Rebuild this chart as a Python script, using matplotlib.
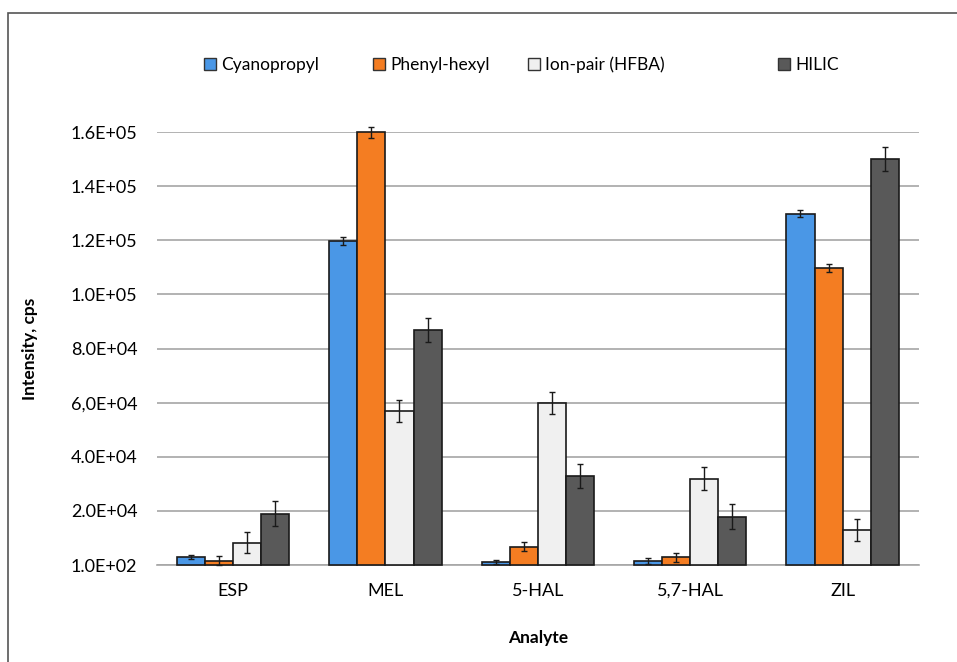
import numpy as np
import matplotlib
matplotlib.use("Agg")
import matplotlib.pyplot as plt
from matplotlib.patches import Patch, Rectangle

plt.rcParams['font.family'] = ['Lato', 'DejaVu Sans']

analytes = ["ESP", "MEL", "5-HAL", "5,7-HAL", "ZIL"]
series = ["Cyanopropyl", "Phenyl-hexyl", "Ion-pair (HFBA)", "HILIC"]

cyanopropyl = [3000, 120000, 1200, 1600, 130000]
phenyl_hexyl = [1700, 160000, 6800, 3000, 110000]
ion_pair = [8400, 57000, 60000, 32000, 13000]
hilic = [19000, 87000, 33000, 18000, 150000]

cyanopropyl_err = [700, 1500, 700, 1000, 1300]
phenyl_hexyl_err = [1600, 2000, 1700, 1700, 1500]
ion_pair_err = [4000, 4200, 4100, 4200, 4200]
hilic_err = [4600, 4500, 4500, 4500, 4400]

ytick_vals = [100, 20100, 40100, 60100, 80100, 100100, 120100, 140100, 160100]
ytick_labels = ["1.0E+02", "2.0E+04", "4.0E+04", "6,0E+04", "8.0E+04",
                "1.0E+05", "1.2E+05", "1.4E+05", "1.6E+05"]

colors = ["#4a97e6", "#f47d22", "#f0f0f0", "#595959"]

values = [cyanopropyl, phenyl_hexyl, ion_pair, hilic]
errors = [cyanopropyl_err, phenyl_hexyl_err, ion_pair_err, hilic_err]

fig = plt.figure(figsize=(9.57, 6.62), dpi=100)
ax = fig.add_axes([0.164, 0.1465, 0.796, 0.654])

x = np.arange(len(analytes))
width = 0.184
for i in range(4):
    pos = x + (i - 1.5) * width
    ax.bar(pos, values[i], width, color=colors[i], edgecolor="#1a1a1a",
           linewidth=1.2, zorder=3, clip_on=False)
    eb = ax.errorbar(pos, values[i], yerr=errors[i], fmt="none", ecolor="#1a1a1a",
                     elinewidth=1.0, capsize=2, capthick=1.0, zorder=4)
    for art in eb.lines[1] + eb.lines[2]:
        art.set_clip_on(False)

ax.set_xlim(-0.5, len(analytes) - 0.5)
ax.set_ylim(100, 160100)
ax.set_yticks(ytick_vals)
ax.set_yticklabels(ytick_labels)
ax.set_xticks(x)
ax.set_xticklabels(analytes)
ax.yaxis.grid(True, color="#a6a6a6", linewidth=1.2, zorder=0)
ax.tick_params(axis="both", length=0, labelsize=13, colors="black")
ax.tick_params(axis="y", pad=14)
ax.tick_params(axis="x", pad=13)
for s in ["top", "right", "left"]:
    ax.spines[s].set_visible(False)
ax.spines["bottom"].set_color("#a6a6a6")
ax.spines["bottom"].set_linewidth(1.2)

ax.set_ylabel("Intensity, cps", fontsize=12.5, fontweight="bold")
ax.set_xlabel("Analyte", fontsize=12.5, fontweight="bold", labelpad=22)
ax.yaxis.set_label_coords(-0.156, 0.5)

# legend entries placed along the top like the original
leg_x = [204, 373, 528, 778]
for i in range(4):
    h = Patch(facecolor=colors[i], edgecolor="#333333", linewidth=1.0)
    fig.legend(handles=[h], labels=[series[i]], loc="center left",
               bbox_to_anchor=(leg_x[i] / 957, 1 - 65 / 662), frameon=False,
               fontsize=12.5, handlelength=0.7, handleheight=0.7,
               handletextpad=0.3, borderpad=0, borderaxespad=0)

# outer border of the picture
fig.patches.append(Rectangle((8 / 957, -0.05), 1.2, 1.05 - 13 / 662,
                             transform=fig.transFigure, fill=False,
                             edgecolor="#555555", linewidth=1.2))

fig.savefig("out.png", dpi=100)
